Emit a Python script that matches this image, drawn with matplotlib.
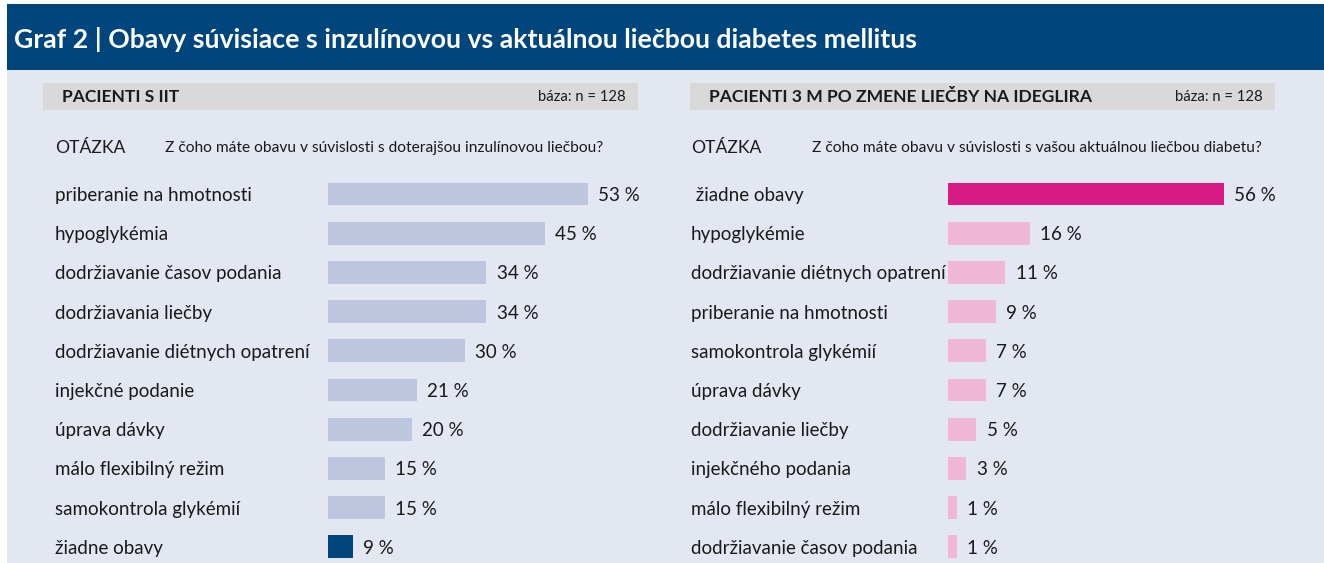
import matplotlib
matplotlib.use('Agg')
import matplotlib.pyplot as plt
from matplotlib.patches import Rectangle
from matplotlib.transforms import blended_transform_factory

plt.rcParams['font.family'] = ['Lato', 'DejaVu Sans']

# data
nazov = 'Graf 2 | Obavy súvisiace s inzulínovou vs aktuálnou liečbou diabetes mellitus'

lavy_nadpis = 'PACIENTI S IIT'
lava_otazka = 'Z čoho máte obavu v súvislosti s doterajšou inzulínovou liečbou?'
lave_kategorie = ['priberanie na hmotnosti', 'hypoglykémia', 'dodržiavanie časov podania',
                  'dodržiavania liečby', 'dodržiavanie diétnych opatrení', 'injekčné podanie',
                  'úprava dávky', 'málo flexibilný režim', 'samokontrola glykémií', 'žiadne obavy']
lave_hodnoty = [53, 45, 34, 34, 30, 21, 20, 15, 15, 9]

pravy_nadpis = 'PACIENTI 3 M PO ZMENE LIEČBY NA IDEGLIRA'
prava_otazka = 'Z čoho máte obavu v súvislosti s vašou aktuálnou liečbou diabetu?'
prave_kategorie = [' žiadne obavy', 'hypoglykémie', 'dodržiavanie diétnych opatrení',
                   'priberanie na hmotnosti', 'samokontrola glykémií', 'úprava dávky',
                   'dodržiavanie liečby', 'injekčného podania', 'málo flexibilný režim',
                   'dodržiavanie časov podania']
prave_hodnoty = [56, 16, 11, 9, 7, 7, 5, 3, 1, 1]

baza = 'báza: n = 128'

# farby
TMAVA_MODRA = '#00457b'
POZADIE = '#e2e7f2'
SIVA = '#d9d9d9'
SVETLA_MODRA = '#bec6df'
RUZOVA = '#d81b84'
SVETLA_RUZOVA = '#f1b8d6'
TEXT = '#1a1a1a'

W, H = 1324, 563
fig = plt.figure(figsize=(W / 100, H / 100), dpi=100)
fig.patch.set_facecolor('white')


def fx(px):
    return px / W


def fy(py):
    return 1 - py / H


def obdlznik(x0, y0, x1, y1, farba):
    fig.add_artist(Rectangle((fx(x0), fy(y1)), fx(x1 - x0), fy(y0) - fy(y1),
                             transform=fig.transFigure, facecolor=farba,
                             edgecolor='none', zorder=-10))


# pozadie a hlavicka
obdlznik(7, 70, W, H, POZADIE)
obdlznik(7, 4, W, 70, TMAVA_MODRA)
fig.text(fx(14), fy(40), nazov, color='white', fontsize=19.2, fontweight='bold', va='center')


def panel(x_box0, x_box1, nadpis, otazka, x_label, x_otazka, x_bar, kat, hod,
          farby, xmin, px_na_jednotku):
    obdlznik(x_box0, 83, x_box1, 110, SIVA)
    fig.text(fx(x_box0 + 19), fy(97), nadpis, fontsize=12.6, fontweight='bold',
             color=TEXT, va='center')
    fig.text(fx(x_box1 - 12), fy(97), baza, fontsize=10.7, color=TEXT, va='center', ha='right')
    fig.text(fx(x_label), fy(148), 'OTÁZKA', fontsize=12.6, color=TEXT, va='center')
    fig.text(fx(x_otazka), fy(148), otazka, fontsize=11.2, color=TEXT, va='center')

    roztec = 39.2
    top = 194 - roztec / 2
    ax = fig.add_axes([fx(x_bar), 0, fx(340), fy(top)])
    ax.set_xlim(xmin, xmin + 340 / px_na_jednotku)
    ax.set_ylim((H - 194) / roztec, -0.5)
    ax.axis('off')
    y = list(range(len(kat)))
    # stlpce zacinaju na lavom okraji osi
    ax.barh(y, [v - xmin for v in hod], height=0.58, color=farby, left=xmin)
    for i, v in enumerate(hod):
        ax.annotate(f'{v} %', (v, i), xytext=(7.5, 0), textcoords='offset points',
                    va='center_baseline', ha='left', fontsize=13.5, color=TEXT)
    tr = blended_transform_factory(fig.transFigure, ax.transData)
    for i, k in enumerate(kat):
        fig.text(fx(x_label), i, k, transform=tr, va='center_baseline', ha='left',
                 fontsize=13.5, color=TEXT)


lave_farby = [SVETLA_MODRA] * (len(lave_hodnoty) - 1) + [TMAVA_MODRA]
prave_farby = [RUZOVA] + [SVETLA_RUZOVA] * (len(prave_hodnoty) - 1)

panel(43, 638, lavy_nadpis, lava_otazka, 55, 165, 328, lave_kategorie, lave_hodnoty,
      lave_farby, 4.3, 5.33)
panel(690, 1275, pravy_nadpis, prava_otazka, 691, 812, 948, prave_kategorie, prave_hodnoty,
      prave_farby, -0.8, 4.86)

fig.savefig('out.png', dpi=100, facecolor=fig.get_facecolor())
